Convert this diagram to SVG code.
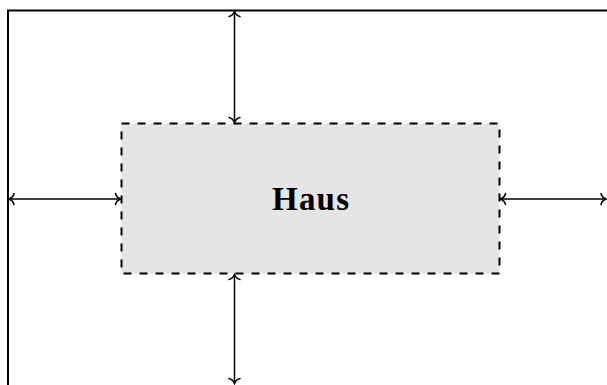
<svg xmlns="http://www.w3.org/2000/svg" width="607" height="385" viewBox="0 0 607 385">
<style>
.frame{fill:none;stroke:#000;stroke-width:2}
.conn{fill:none;stroke:#000;stroke-width:1.5}
.box{fill:#e5e5e5;stroke:#000;stroke-width:2;stroke-dasharray:8 8}
.lbl{font-family:"Liberation Serif","DejaVu Serif",serif;font-weight:bold;font-size:33px;fill:#000}
</style>
<defs>
<marker id="tip" markerUnits="userSpaceOnUse" viewBox="-6 -6 8 12" refX="0" refY="0" markerWidth="8" markerHeight="12" orient="auto-start-reverse" overflow="visible">
<path d="M -5 -5.5 C -4.5 -2.8 -1.7 -0.7 0 0 C -1.7 0.7 -4.5 2.8 -5 5.5" fill="none" stroke="#000" stroke-width="1.5" stroke-linecap="round"/>
</marker>
</defs>
<g id="frame">
<path class="frame" d="M 8 385 L 8 10.5 L 607 10.5"/>
</g>
<g id="haus">
<rect class="box" x="121.5" y="123.5" width="378" height="150"/>
<text class="lbl" x="310.5" y="209.5" text-anchor="middle" textLength="77" lengthAdjust="spacing">Haus</text>
</g>
<g id="connectors">
<line class="conn" x1="234.5" y1="11.5" x2="234.5" y2="122.5" marker-start="url(#tip)" marker-end="url(#tip)"/>
<line class="conn" x1="234.5" y1="274.5" x2="234.5" y2="383.5" marker-start="url(#tip)" marker-end="url(#tip)"/>
<line class="conn" x1="9" y1="199" x2="120.5" y2="199" marker-start="url(#tip)" marker-end="url(#tip)"/>
<line class="conn" x1="500.5" y1="199" x2="606" y2="199" marker-start="url(#tip)" marker-end="url(#tip)"/>
</g>
</svg>
